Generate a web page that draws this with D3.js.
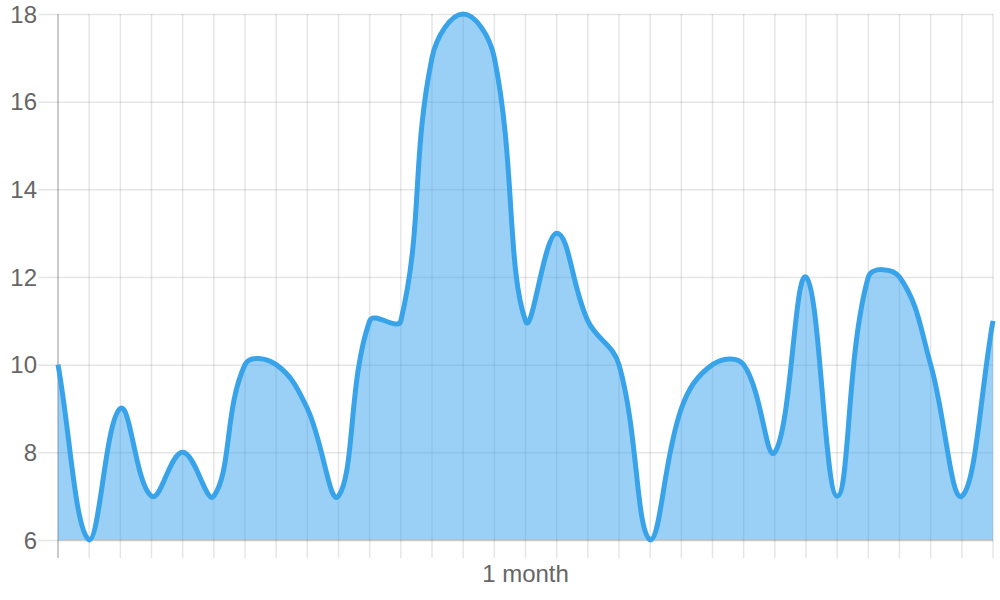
<!DOCTYPE html>
<html>
<head>
<meta charset="utf-8">
<script src="https://cdn.jsdelivr.net/npm/d3@7"></script>
<style>
  html, body { margin: 0; padding: 0; background: #fff; }
  svg { display: block; }
  text { font-family: "Liberation Sans", Arial, Helvetica, sans-serif; fill: #666; }
</style>
</head>
<body>
<svg id="chart" width="1000" height="600"></svg>
<script>
// ---- data ----
const days = d3.range(1, 32);              // 31 daily points
const values = [10, 6, 9, 7, 8, 7, 10, 10, 9, 7, 11, 11, 17, 18, 17, 11, 13, 11, 10, 6, 9, 10, 10, 8, 12, 7, 12, 12, 10, 7, 11];
const yTicks = [6, 8, 10, 12, 14, 16, 18];
const xLabel = "1 month";

(function () {
// ---- layout ----
const pLeft = 58, pRight = 993, pTop = 14, pBottom = 540;
const svg = d3.select("#chart");

const x = d3.scaleLinear().domain([0, days.length - 1]).range([pLeft, pRight]);
const y = d3.scaleLinear().domain([6, 18]).range([pBottom, pTop]);

// ---- grid ----
const grid = svg.append("g");
grid.selectAll("line.h").data(yTicks).join("line")
  .attr("x1", pLeft - 20).attr("x2", pRight)
  .attr("y1", d => y(d) + 0.5).attr("y2", d => y(d) + 0.5)
  .attr("stroke", "rgba(0,0,0,0.1)").attr("stroke-width", 1.5);
grid.selectAll("line.v").data(days.map((d, i) => i)).join("line")
  .attr("x1", d => x(d)).attr("x2", d => x(d))
  .attr("y1", pTop).attr("y2", pBottom + 18)
  .attr("stroke", d => d === 0 ? "rgba(0,0,0,0.28)" : "rgba(0,0,0,0.1)")
  .attr("stroke-width", 1.5);
grid.append("line")
  .attr("x1", pLeft).attr("x2", pRight)
  .attr("y1", pBottom + 0.5).attr("y2", pBottom + 0.5)
  .attr("stroke", "rgba(0,0,0,0.12)").attr("stroke-width", 1.5);

// ---- y labels ----
svg.append("g").selectAll("text").data(yTicks).join("text")
  .attr("x", 37).attr("y", d => y(d))
  .attr("dy", "0.36em")
  .attr("text-anchor", "end")
  .attr("font-size", 24)
  .text(d => d);

// ---- x label ----
svg.append("text")
  .attr("x", (pLeft + pRight) / 2).attr("y", 582)
  .attr("text-anchor", "middle")
  .attr("font-size", 24)
  .text(xLabel);

// ---- spline (Chart.js style, tension 0.4) ----
const pts = values.map((v, i) => ({ x: x(i), y: y(v) }));
const t = 0.4;
const cap = (p) => ({ x: Math.max(pLeft, Math.min(pRight, p.x)), y: Math.max(pTop, Math.min(pBottom, p.y)) });
pts.forEach((cur, i) => {
  const prev = pts[i - 1] || cur;
  const next = pts[i + 1] || cur;
  const d01 = Math.hypot(cur.x - prev.x, cur.y - prev.y);
  const d12 = Math.hypot(next.x - cur.x, next.y - cur.y);
  let s01 = d01 / (d01 + d12), s12 = d12 / (d01 + d12);
  if (isNaN(s01)) s01 = 0;
  if (isNaN(s12)) s12 = 0;
  const fa = t * s01, fb = t * s12;
  cur.cp1 = cap({ x: cur.x - fa * (next.x - prev.x), y: cur.y - fa * (next.y - prev.y) });
  cur.cp2 = cap({ x: cur.x + fb * (next.x - prev.x), y: cur.y + fb * (next.y - prev.y) });
});
function curvePath(p) {
  p.moveTo(pts[0].x, pts[0].y);
  for (let i = 1; i < pts.length; i++) {
    const a = pts[i - 1], b = pts[i];
    p.bezierCurveTo(a.cp2.x, a.cp2.y, b.cp1.x, b.cp1.y, b.x, b.y);
  }
  return p;
}
const areaPath = curvePath(d3.path());
areaPath.lineTo(pts[pts.length - 1].x, y(6));
areaPath.lineTo(pts[0].x, y(6));
areaPath.closePath();

svg.append("path")
  .attr("d", areaPath.toString())
  .attr("fill", "rgba(54,162,235,0.5)");

svg.append("path")
  .attr("d", curvePath(d3.path()).toString())
  .attr("fill", "none")
  .attr("stroke", "#39a3ea")
  .attr("stroke-width", 5)
  .attr("stroke-linejoin", "round");
})();
</script>
</body>
</html>
